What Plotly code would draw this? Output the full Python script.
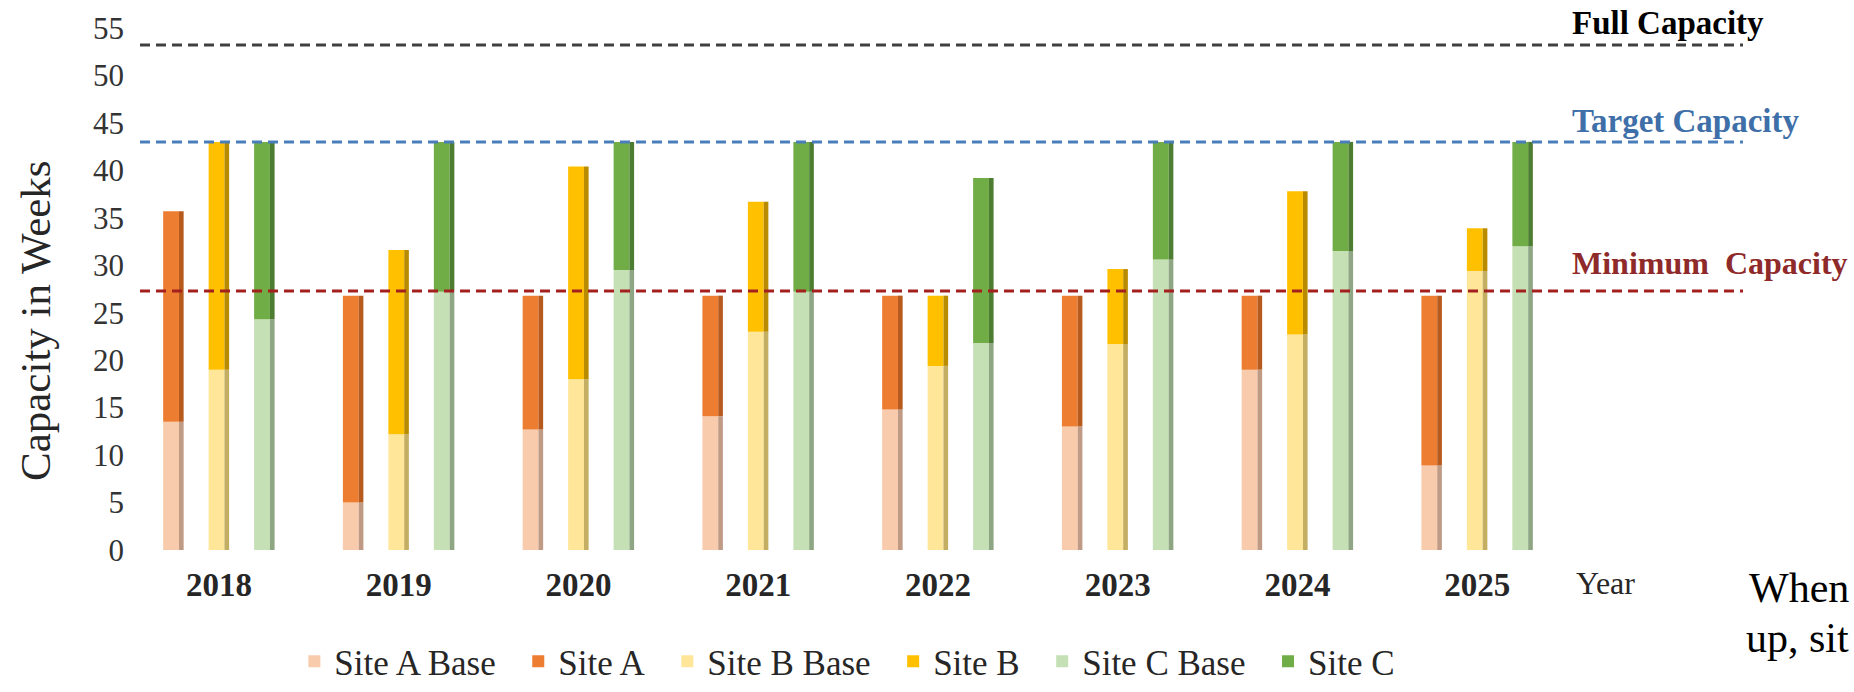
import plotly.graph_objects as go

years = ["2018", "2019", "2020", "2021", "2022", "2023", "2024", "2025"]

site_a_base = [13.5, 5.0, 12.7, 14.1, 14.8, 13.0, 19.0, 8.9]
site_a_total = [35.7, 26.8, 26.8, 26.8, 26.8, 26.8, 26.8, 26.8]
site_b_base = [19.0, 12.2, 18.0, 23.0, 19.4, 21.7, 22.7, 29.4]
site_b_total = [43.0, 31.6, 40.4, 36.7, 26.8, 29.6, 37.8, 33.9]
site_c_base = [24.3, 27.2, 29.5, 27.2, 21.8, 30.6, 31.5, 32.0]
site_c_total = [43.0, 43.0, 43.0, 43.0, 39.2, 43.0, 43.0, 43.0]

full_capacity = 53.2
target_capacity = 43.0
minimum_capacity = 27.3

y_ticks = [0, 5, 10, 15, 20, 25, 30, 35, 40, 45, 50, 55]

FONT = "Liberation Serif, Times New Roman, serif"
GAP = "\u00a0\u00a0"

sites = [
    ("Site A", site_a_base, site_a_total, -0.253,
     "#F8CBAD", "#ED7D31", "#BF9A84", "#B65A1E"),
    ("Site B", site_b_base, site_b_total, 0.0,
     "#FFE699", "#FFC000", "#C4AE62", "#B98C00"),
    ("Site C", site_c_base, site_c_total, 0.253,
     "#C5E0B4", "#70AD47", "#8FA684", "#4D7D31"),
]

face_w = 0.088
side_w = 0.026

fig = go.Figure()
for k, (name, base, total, off, c_base, c_top, s_base, s_top) in enumerate(sites):
    inc = [t - b for t, b in zip(total, base)]
    last = k == len(sites) - 1
    fig.add_trace(go.Bar(
        x=years, y=base, name=name + " Base" + GAP, marker=dict(color=c_base, line=dict(width=0)),
        offset=off - face_w / 2 - side_w / 2, width=face_w,
    ))
    fig.add_trace(go.Bar(
        x=years, y=inc, base=base, name=name + ("" if last else GAP),
        marker=dict(color=c_top, line=dict(width=0)),
        offset=off - face_w / 2 - side_w / 2, width=face_w,
    ))
    fig.add_trace(go.Bar(
        x=years, y=base, showlegend=False, hoverinfo="skip",
        marker=dict(color=s_base, line=dict(width=0)),
        offset=off + face_w / 2 - side_w / 2, width=side_w,
    ))
    fig.add_trace(go.Bar(
        x=years, y=inc, base=base, showlegend=False, hoverinfo="skip",
        marker=dict(color=s_top, line=dict(width=0)),
        offset=off + face_w / 2 - side_w / 2, width=side_w,
    ))

x0p = (140 - 129) / 1438
x1p = (1743 - 129) / 1438
for val, col in [(full_capacity, "#404040"), (target_capacity, "#4A7EBB"),
                 (minimum_capacity, "#A3201F")]:
    fig.add_shape(type="line", xref="paper", yref="y", x0=x0p, x1=x1p, y0=val, y1=val,
                  line=dict(color=col, width=3, dash="10px,6px"))

lbl_x = (1570 - 129) / 1438
fig.add_annotation(text="<b>Full Capacity</b>", xref="paper", yref="paper", x=lbl_x, y=(550 - 23) / 522,
                   xanchor="left", yanchor="middle", showarrow=False,
                   font=dict(family=FONT, size=33, color="#000000"))
fig.add_annotation(text="<b>Target Capacity</b>", xref="paper", yref="paper", x=lbl_x, y=(550 - 121) / 522,
                   xanchor="left", yanchor="middle", showarrow=False,
                   font=dict(family=FONT, size=33, color="#3E6FA8"))
fig.add_annotation(text="<b>Minimum  Capacity</b>", xref="paper", yref="paper", x=lbl_x, y=(550 - 263) / 522,
                   xanchor="left", yanchor="middle", showarrow=False,
                   font=dict(family=FONT, size=32, color="#8E2A2A"))

fig.add_annotation(text="Capacity in Weeks", xref="paper", yref="paper", x=(35 - 129) / 1438,
                   y=(550 - 321) / 522, textangle=-90, xanchor="center", yanchor="middle",
                   showarrow=False, font=dict(family=FONT, size=43, color="#262626"))
fig.add_annotation(text="Year", xref="paper", yref="paper", x=(1605 - 129) / 1438,
                   y=(550 - 583) / 522, xanchor="center", yanchor="middle",
                   showarrow=False, font=dict(family=FONT, size=32, color="#262626"))
fig.add_annotation(text="When", xref="paper", yref="paper", x=(1851 - 129) / 1438,
                   y=(550 - 588) / 522, xanchor="right", yanchor="middle",
                   showarrow=False, font=dict(family=FONT, size=42, color="#000000"))
fig.add_annotation(text="up, sit", xref="paper", yref="paper", x=(1851 - 129) / 1438,
                   y=(550 - 638) / 522, xanchor="right", yanchor="middle",
                   showarrow=False, font=dict(family=FONT, size=42, color="#000000"))

fig.update_layout(
    width=1854, height=692,
    margin=dict(l=129, r=287, t=28, b=142, pad=0, autoexpand=False),
    paper_bgcolor="white", plot_bgcolor="white",
    barmode="overlay",
    font=dict(family=FONT, color="#262626"),
    xaxis=dict(type="category", range=[-0.5, 7.5], showgrid=False, zeroline=False, showline=False,
               ticks="", tickfont=dict(family=FONT, size=33, color="#262626"),
               ticklabelstandoff=12, tickprefix="<b>", ticksuffix="</b>", automargin=False),
    yaxis=dict(range=[0, 55], tickvals=y_ticks, showgrid=False, zeroline=False, showline=False,
               ticks="", tickfont=dict(family=FONT, size=31, color="#333333"),
               ticklabelstandoff=4, automargin=False),
    legend=dict(orientation="h", x=0.115, y=(550 - 691) / 522, xanchor="left", yanchor="bottom",
                font=dict(family=FONT, size=35, color="#262626"), traceorder="normal",
                itemwidth=30, bgcolor="rgba(0,0,0,0)"),
    showlegend=True,
)

fig.write_html("out.html")
